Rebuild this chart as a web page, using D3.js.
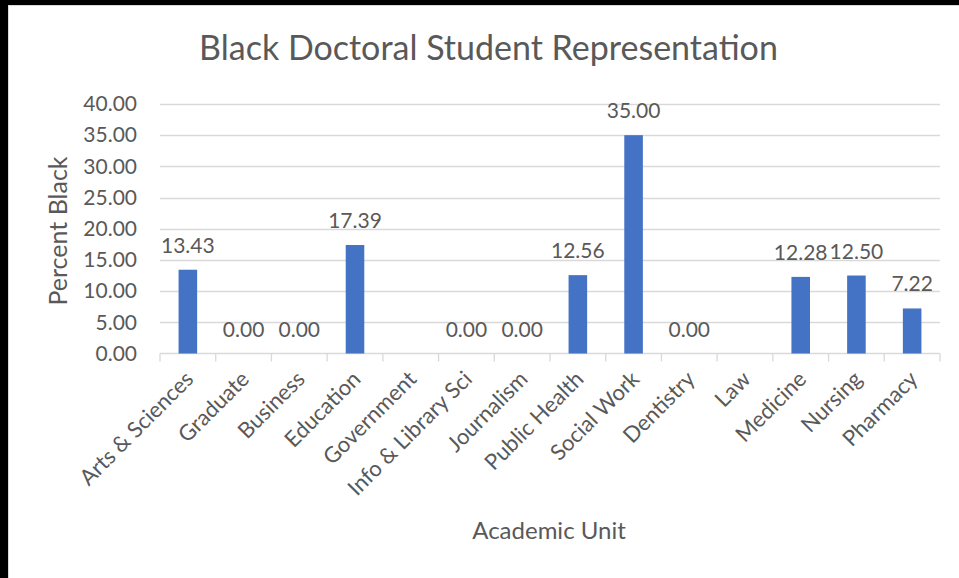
<!DOCTYPE html>
<html>
<head>
<meta charset="utf-8">
<script src="https://cdn.jsdelivr.net/npm/d3@7"></script>
<style>
  html, body { margin: 0; padding: 0; background: #000; }
  svg { display: block; }
  text { font-family: Lato, "Open Sans", sans-serif; fill: #595959; }
</style>
</head>
<body>
<svg id="chart" width="959" height="578"></svg>
<script>
// Academic units and their share of Black doctoral students (null = no data)
const units = ["Arts & Sciences", "Graduate", "Business", "Education", "Government",
  "Info & Library Sci", "Journalism", "Public Health", "Social Work", "Dentistry",
  "Law", "Medicine", "Nursing", "Pharmacy"];
const percentBlack = [13.43, 0, 0, 17.39, null, 0, 0, 12.56, 35.00, 0, null, 12.28, 12.50, 7.22];
const yTicks = [0, 5, 10, 15, 20, 25, 30, 35, 40];

const title = "Black Doctoral Student Representation";
const xTitle = "Academic Unit";
const yTitle = "Percent Black";

const svg = d3.select("#chart");
const W = 959, H = 578;
const plot = { left: 160, right: 940, top: 104, bottom: 353.5 };

// Chart area panel
svg.append("rect")
  .attr("x", 8.5).attr("y", 5.5)
  .attr("width", W - 8).attr("height", H - 5)
  .attr("fill", "#fff").attr("stroke", "#d9d9d9");

const x = d3.scaleBand().domain(units).range([plot.left, plot.right]).padding(0);
const y = d3.scaleLinear().domain([0, 40]).range([plot.bottom, plot.top]);
const fmt = d3.format(".2f");

// Horizontal gridlines
svg.append("g").selectAll("line")
  .data(yTicks.filter(t => t > 0))
  .join("line")
  .attr("x1", plot.left).attr("x2", plot.right)
  .attr("y1", d => Math.round(y(d)) + 0.5).attr("y2", d => Math.round(y(d)) + 0.5)
  .attr("stroke", "#d9d9d9").attr("stroke-width", 1.3);

// Y axis tick labels
const yAxis = d3.axisLeft(y).tickValues(yTicks).tickFormat(fmt).tickSize(0).tickPadding(23);
const gy = svg.append("g").attr("transform", `translate(${plot.left},0)`).call(yAxis);
gy.select(".domain").remove();
gy.selectAll("text").attr("font-size", 21).attr("fill", "#595959")
  .style("font-family", "Lato, 'Open Sans', sans-serif");

// X axis line with category separators
const xAxis = d3.axisBottom(x).tickSize(0).tickFormat("");
const gx = svg.append("g").attr("transform", `translate(0,${plot.bottom})`).call(xAxis);
gx.select(".domain").attr("stroke", "#d9d9d9").attr("stroke-width", 1.3)
  .attr("d", `M${plot.left},0H${plot.right}`);
gx.selectAll(".tick").remove();
const edges = units.map(u => x(u)).concat([plot.right]);
gx.selectAll("line.sep").data(edges).join("line")
  .attr("class", "sep")
  .attr("x1", d => d).attr("x2", d => d)
  .attr("y1", 0).attr("y2", 8)
  .attr("stroke", "#d9d9d9").attr("stroke-width", 1.3);

// Bars
const barW = x.bandwidth() / 3;
const rows = units.map((u, i) => ({ unit: u, value: percentBlack[i] }));
svg.append("g").selectAll("rect")
  .data(rows.filter(d => d.value !== null))
  .join("rect")
  .attr("x", d => x(d.unit) + (x.bandwidth() - barW) / 2)
  .attr("width", barW)
  .attr("y", d => y(d.value))
  .attr("height", d => y(0) - y(d.value))
  .attr("fill", "#4472c4");

// Value labels
svg.append("g").selectAll("text")
  .data(rows.filter(d => d.value !== null))
  .join("text")
  .attr("x", d => x(d.unit) + x.bandwidth() / 2)
  .attr("y", d => y(d.value) - 17)
  .attr("text-anchor", "middle")
  .attr("font-size", 21)
  .text(d => fmt(d.value));

// Category labels, rotated
svg.append("g").selectAll("text")
  .data(units)
  .join("text")
  .attr("text-anchor", "end")
  .attr("font-size", 22)
  .attr("transform", d => `translate(${x(d) + x.bandwidth() / 2 + 7},${plot.bottom + 27}) rotate(-45)`)
  .text(d => d);

// Titles
svg.append("text")
  .attr("x", 488.5).attr("y", 60)
  .attr("text-anchor", "middle")
  .attr("font-size", 34)
  .text(title);

svg.append("text")
  .attr("x", 549).attr("y", 539)
  .attr("text-anchor", "middle")
  .attr("font-size", 24)
  .text(xTitle);

svg.append("text")
  .attr("transform", `translate(66.5,231) rotate(-90)`)
  .attr("text-anchor", "middle")
  .attr("font-size", 25)
  .text(yTitle);
</script>
</body>
</html>
